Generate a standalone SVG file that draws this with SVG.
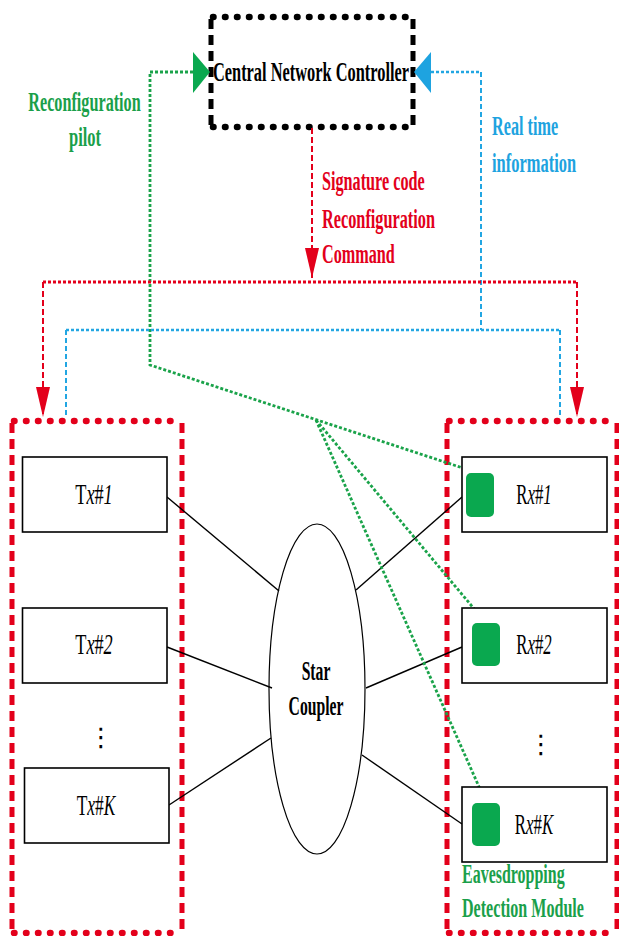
<svg xmlns="http://www.w3.org/2000/svg" width="619" height="936" viewBox="0 0 619 936">
  <defs>
    <style>
      .txt { font-family: "Liberation Serif", "Times New Roman", serif; font-size: 27px; }
      .node { font-size: 29px; }
      .b { font-weight: bold; }
      .mid { text-anchor: middle; }
      .green { fill: #1a9f4a; }
      .blue { fill: #1ea3e0; }
      .red { fill: #e3001b; }
      .dotTop { fill: none; stroke-width: 6.5; stroke-linecap: round; stroke-dasharray: 0.5 11.5; }
      .dashSide { fill: none; stroke-width: 5; stroke-dasharray: 10 6; }
      .box { fill: #fff; stroke: #000; stroke-width: 1.6; }
      .link { fill: none; stroke: #000; stroke-width: 1.4; }
      .gLine { fill: none; stroke: #1aa34a; stroke-width: 2.8; stroke-dasharray: 3 2; }
      .bLine { fill: none; stroke: #22a6e2; stroke-width: 2.4; stroke-dasharray: 3 2; }
      .bLineV { fill: none; stroke: #22a6e2; stroke-width: 2; stroke-dasharray: 5 3; }
      .rLine { fill: none; stroke: #e3001b; stroke-width: 3; stroke-dasharray: 3 2; }
      .rLineV { fill: none; stroke: #e3001b; stroke-width: 2; stroke-dasharray: 6 3; }
      .eddm { fill: #0aa84f; }
      .dots { font-family: "DejaVu Sans", sans-serif; font-size: 26px; text-anchor: middle; }
    </style>
    <marker id="redHead" markerUnits="userSpaceOnUse" markerWidth="30" markerHeight="14" refX="30" refY="7" orient="auto">
      <path d="M0,0 L30,7 L0,14 z" fill="#e3001b"/>
    </marker>
  </defs>

  <!-- Central controller -->
  <g id="controller">
    <rect x="211" y="17" width="202" height="110" fill="#fff"/>
    <path class="dotTop" stroke="#000" d="M213,17 H412 M213,127 H412"/>
    <path class="dashSide" stroke="#000" d="M211,19 V127 M413,19 V127"/>
    <text class="txt b mid" style="font-size:28px" transform="translate(311,81) scale(0.585,1)">Central Network Controller</text>
  </g>

  <!-- Transmitter group -->
  <g id="tx-group">
    <path class="dotTop" stroke="#e3001b" d="M14,421 H181 M14,933 H181"/>
    <path class="dashSide" stroke="#e3001b" d="M12,423 V932 M182,423 V932"/>
  </g>

  <!-- Receiver group -->
  <g id="rx-group">
    <path class="dotTop" stroke="#e3001b" d="M449,421 H616 M449,933 H616"/>
    <path class="dashSide" stroke="#e3001b" d="M447,423 V932 M617,423 V932"/>
  </g>

  <!-- Star coupler -->
  <g id="star-coupler">
    <ellipse cx="317" cy="689" rx="48" ry="165" fill="#fff" stroke="#000" stroke-width="1.2"/>
    <text class="txt b mid" transform="translate(316,680) scale(0.58,1)">Star</text>
    <text class="txt b mid" transform="translate(316,715) scale(0.58,1)">Coupler</text>
  </g>

  <!-- Connectors -->
  <g id="connectors">
    <!-- fibre links to the coupler -->
    <path class="link" d="M167,497 L279,591"/>
    <path class="link" d="M167,647 L272,688"/>
    <path class="link" d="M169,805 L271,738"/>
    <path class="link" d="M462,497 L356,590"/>
    <path class="link" d="M462,647 L366,688"/>
    <path class="link" d="M462,824 L362,755"/>

    <!-- reconfiguration pilot (green) -->
    <path class="gLine" d="M193,72 H150 V365 L478,473"/>
    <path class="gLine" d="M316,420 L486,623"/>
    <path class="gLine" d="M316,420 L484,798"/>
    <polygon points="193,52 210,72 193,93" fill="#0aa84f"/>

    <!-- real time information (blue) -->
    <path class="bLine" d="M431,72 H481"/>
    <path class="bLineV" d="M481,72 V330"/>
    <path class="bLine" d="M66,330 H560"/>
    <path class="bLineV" d="M66,330 V418 M560,330 V418"/>
    <polygon points="431,52 414,72 431,93" fill="#1ea3e0"/>

    <!-- signature code / reconfiguration command (red) -->
    <path class="rLineV" d="M312,128 V278" marker-end="url(#redHead)"/>
    <path class="rLine" d="M43,282 H577"/>
    <path class="rLineV" d="M43,282 V417" marker-end="url(#redHead)"/>
    <path class="rLineV" d="M577,282 V417" marker-end="url(#redHead)"/>
  </g>

  <!-- Transmitters -->
  <g id="tx1">
    <rect class="box" x="22.5" y="457" width="144.5" height="75"/>
    <text class="txt node mid" transform="translate(94,504) scale(0.63,1)">T<tspan font-style="italic">x</tspan>#<tspan font-style="italic">1</tspan></text>
  </g>
  <g id="tx2">
    <rect class="box" x="22.5" y="608" width="144.5" height="75"/>
    <text class="txt node mid" transform="translate(94,654) scale(0.63,1)">T<tspan font-style="italic">x</tspan>#<tspan font-style="italic">2</tspan></text>
  </g>
  <g id="tx-dots">
    <text class="dots" x="101" y="746">⋮</text>
  </g>
  <g id="txK">
    <rect class="box" x="24.5" y="768" width="144.5" height="75"/>
    <text class="txt node mid" transform="translate(96,815) scale(0.6,1)">T<tspan font-style="italic">x</tspan>#<tspan font-style="italic">K</tspan></text>
  </g>

  <!-- Receivers with eavesdropping detection modules -->
  <g id="rx1">
    <rect class="box" x="462" y="457" width="145" height="75"/>
    <rect class="eddm" x="466" y="473" width="28" height="44" rx="5"/>
    <text class="txt node mid" transform="translate(534,504) scale(0.58,1)">R<tspan font-style="italic">x</tspan>#<tspan font-style="italic">1</tspan></text>
  </g>
  <g id="rx2">
    <rect class="box" x="462" y="608" width="145" height="75"/>
    <rect class="eddm" x="472" y="623" width="28" height="43" rx="5"/>
    <text class="txt node mid" transform="translate(534,654) scale(0.58,1)">R<tspan font-style="italic">x</tspan>#<tspan font-style="italic">2</tspan></text>
  </g>
  <g id="rx-dots">
    <text class="dots" x="541" y="753">⋮</text>
  </g>
  <g id="rxK">
    <rect class="box" x="462" y="787" width="145" height="75"/>
    <rect class="eddm" x="472" y="803" width="28" height="43" rx="5"/>
    <text class="txt node mid" transform="translate(534,834) scale(0.58,1)">R<tspan font-style="italic">x</tspan>#<tspan font-style="italic">K</tspan></text>
  </g>

  <!-- Labels -->
  <g id="label-pilot" class="green">
    <text class="txt b mid" transform="translate(84.5,111) scale(0.6,1)">Reconfiguration</text>
    <text class="txt b mid" transform="translate(85,146) scale(0.61,1)">pilot</text>
  </g>
  <g id="label-realtime" class="blue">
    <text class="txt b" transform="translate(492,135) scale(0.6,1)">Real time</text>
    <text class="txt b" transform="translate(492,172) scale(0.61,1)">information</text>
  </g>
  <g id="label-command" class="red">
    <text class="txt b" transform="translate(322,190) scale(0.6,1)">Signature code</text>
    <text class="txt b" transform="translate(322,228) scale(0.603,1)">Reconfiguration</text>
    <text class="txt b" transform="translate(322,263) scale(0.6,1)">Command</text>
  </g>
  <g id="label-eddm" class="green">
    <text class="txt b" transform="translate(462,883) scale(0.592,1)">Eavesdropping</text>
    <text class="txt b" transform="translate(462,917) scale(0.596,1)">Detection Module</text>
  </g>
</svg>
